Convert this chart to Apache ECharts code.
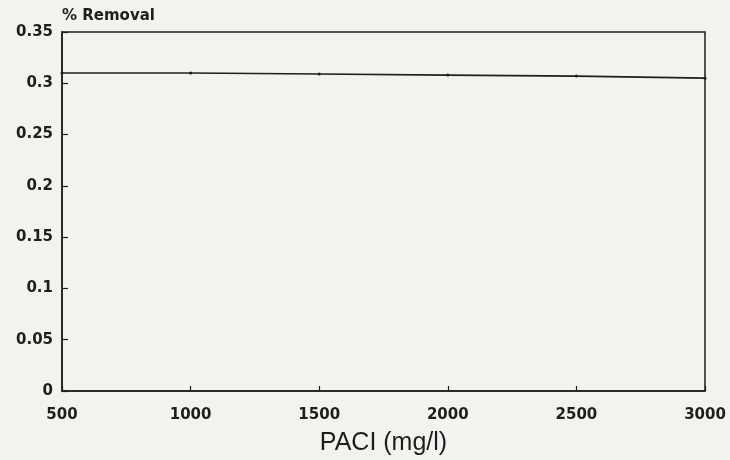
<!DOCTYPE html>
<html>
<head>
<meta charset="utf-8">
<script src="https://cdn.jsdelivr.net/npm/echarts@6/dist/echarts.min.js"></script>
<style>
  html, body { margin: 0; padding: 0; background: #f2f2ef; }
  #chart { width: 730px; height: 460px; }
</style>
</head>
<body>
<div id="chart"></div>
<script>
// PACI dose (mg/l) and the corresponding removal fraction
const paciDose = [500, 1000, 1500, 2000, 2500, 3000];
const removal = [0.310, 0.310, 0.309, 0.308, 0.307, 0.305];
const xTicks = [500, 1000, 1500, 2000, 2500, 3000];
const yTicks = [0, 0.05, 0.1, 0.15, 0.2, 0.25, 0.3, 0.35];

const ink = '#1e1e1e';
const tickFont = '"DejaVu Sans", Verdana, sans-serif';
const titleFont = '"Liberation Sans", Arial, sans-serif';

const chart = echarts.init(document.getElementById('chart'), null, { renderer: 'canvas' });
chart.setOption({
  backgroundColor: '#f2f2ef',
  animation: false,
  grid: {
    left: 62, right: 25, top: 32, bottom: 69,
    containLabel: false,
    outerBoundsMode: 'none',
    show: true, borderColor: ink, borderWidth: 1.5, backgroundColor: 'transparent'
  },
  xAxis: {
    type: 'value',
    min: xTicks[0], max: xTicks[xTicks.length - 1], interval: 500,
    name: 'PACI (mg/l)',
    nameLocation: 'middle',
    nameGap: 40,
    nameTextStyle: { color: ink, fontFamily: titleFont, fontSize: 25 },
    axisLine: { lineStyle: { color: ink, width: 1.5 } },
    axisTick: { inside: true, length: 5, lineStyle: { color: ink, width: 1.2 } },
    splitLine: { show: false },
    axisLabel: {
      color: ink, fontFamily: tickFont, fontSize: 15, fontWeight: 'bold', margin: 17,
      formatter: v => String(v)
    }
  },
  yAxis: {
    type: 'value',
    min: yTicks[0], max: yTicks[yTicks.length - 1], interval: 0.05,
    name: '% Removal',
    nameLocation: 'end',
    nameGap: 8,
    nameTextStyle: { color: ink, fontFamily: tickFont, fontSize: 15, fontWeight: 'bold', align: 'left' },
    axisLine: { show: true, lineStyle: { color: ink, width: 1.5 } },
    axisTick: { show: true, inside: true, length: 6, lineStyle: { color: ink, width: 1.2 } },
    splitLine: { show: false },
    axisLabel: {
      color: ink, fontFamily: tickFont, fontSize: 15, fontWeight: 'bold', margin: 9,
      formatter: v => String(Math.round(v * 100) / 100)
    }
  },
  series: [{
    type: 'line',
    data: paciDose.map((x, i) => [x, removal[i]]),
    symbol: 'circle',
    symbolSize: 3,
    showSymbol: true,
    itemStyle: { color: ink },
    lineStyle: { color: ink, width: 1.6 }
  }]
});
</script>
</body>
</html>
